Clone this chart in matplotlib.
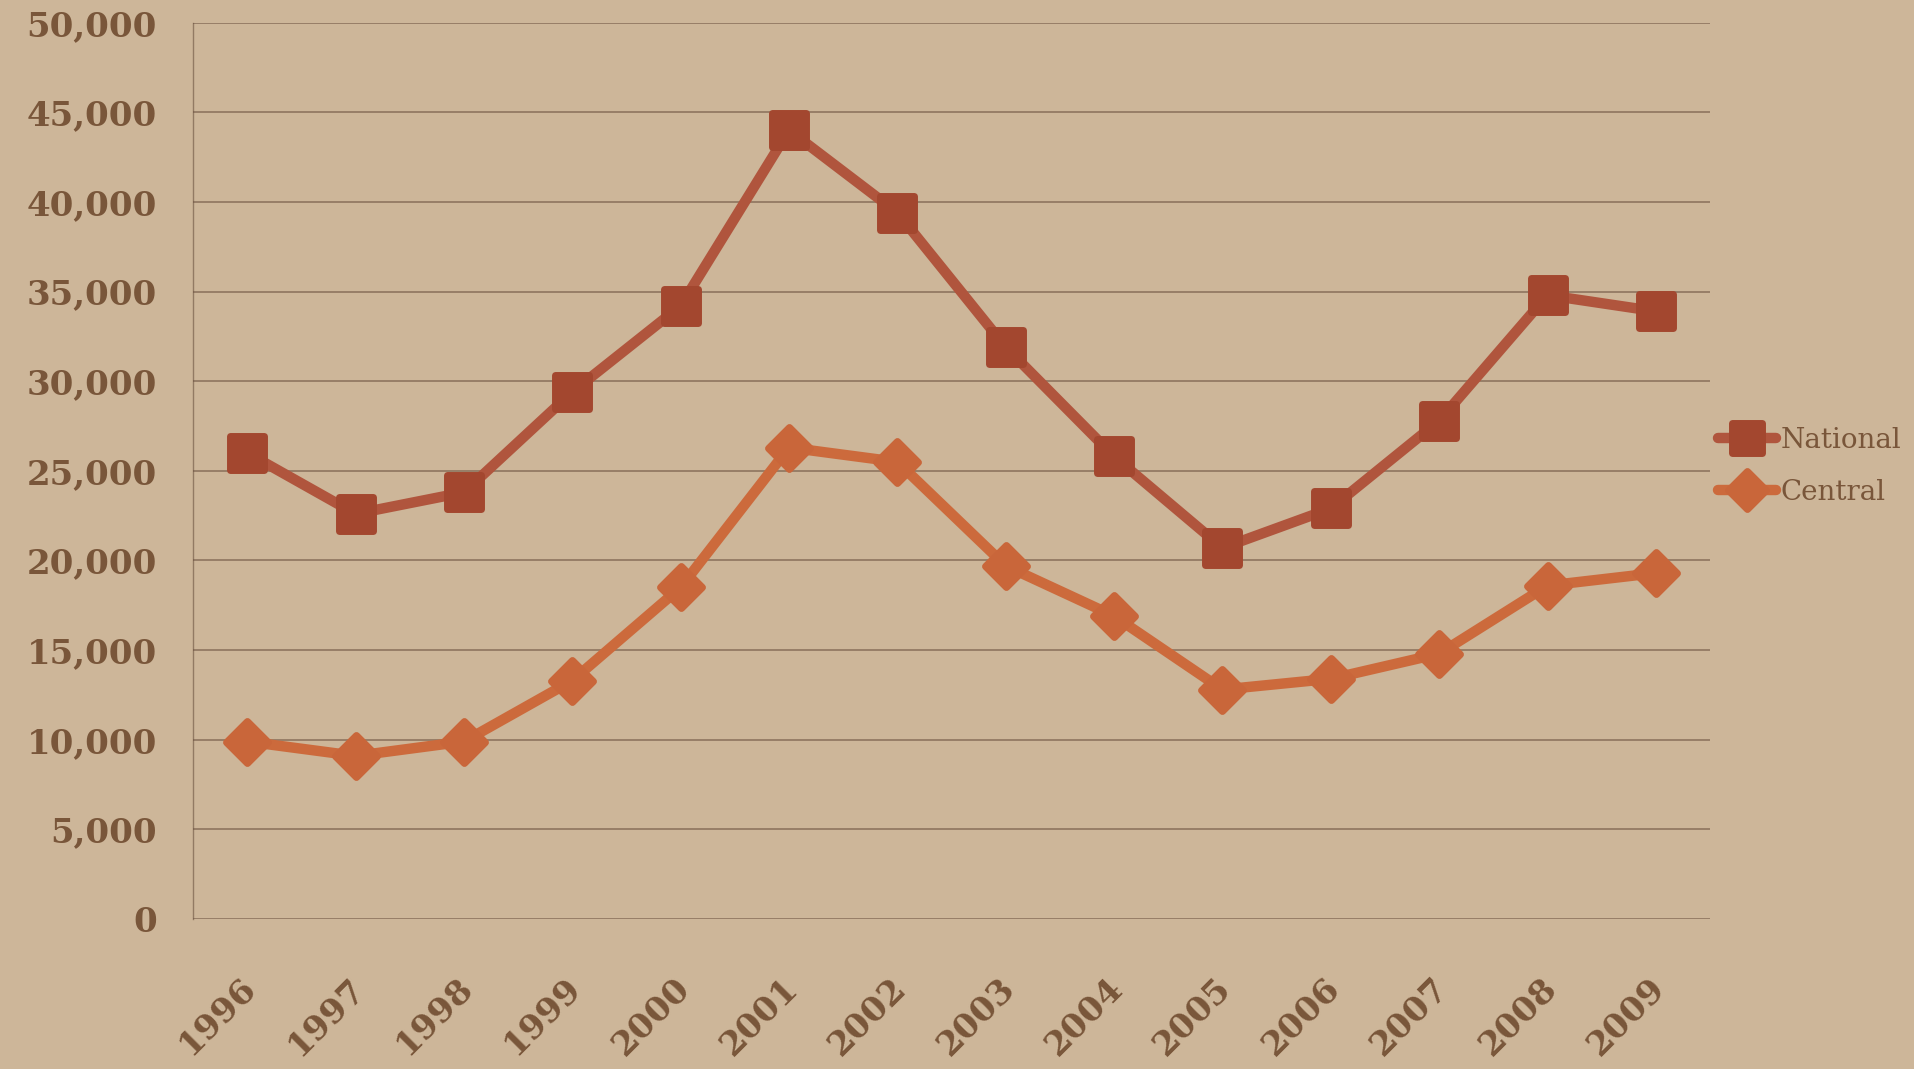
import matplotlib
matplotlib.use("Agg")
import matplotlib.pyplot as plt
from matplotlib.markers import MarkerStyle
from matplotlib.lines import Line2D
from matplotlib.ticker import FuncFormatter, MultipleLocator
import matplotlib.transforms as mtransforms

years = ["1996", "1997", "1998", "1999", "2000", "2001", "2002",
         "2003", "2004", "2005", "2006", "2007", "2008", "2009"]
national = [26000, 22600, 23800, 29400, 34200, 44000, 39400,
            31900, 25800, 20700, 22900, 27800, 34800, 33900]
central = [9900, 9100, 9900, 13300, 18500, 26300, 25500,
           19700, 16900, 12800, 13400, 14800, 18600, 19300]

BG = "#CDB699"
LABEL = "#6A4529"
GRID = "#6B5240"
NAT_LINE = "#B0553D"
NAT_MK = "#A3472F"
CEN_LINE = "#CC6A3C"
CEN_MK = "#C9663A"

fig = plt.figure(figsize=(19.15, 10.69), dpi=100, facecolor=BG)
ax = fig.add_axes([0.1008, 0.1403, 0.7922, 0.8385])
ax.set_facecolor(BG)

x = list(range(len(years)))
sq = MarkerStyle("s", joinstyle="round")
dm = MarkerStyle("D", joinstyle="round")

nat_kw = dict(marker=sq, markersize=24, markeredgewidth=5,
              markeredgecolor=NAT_MK, markerfacecolor=NAT_MK)
cen_kw = dict(marker=dm, markersize=21, markeredgewidth=5,
              markeredgecolor=CEN_MK, markerfacecolor=CEN_MK)

LW = 7.5
ax.plot(x, national, color=NAT_LINE, lw=LW, solid_joinstyle="round",
        solid_capstyle="round", zorder=3)
ax.plot(x, national, ls="none", zorder=4, **nat_kw)
ax.plot(x, central, color=CEN_LINE, lw=LW, solid_joinstyle="round",
        solid_capstyle="round", zorder=3)
ax.plot(x, central, ls="none", zorder=4, **cen_kw)

ax.set_xlim(-0.5, 13.5)
ax.set_ylim(0, 50000)
ax.yaxis.set_major_locator(MultipleLocator(5000))
ax.yaxis.set_major_formatter(FuncFormatter(lambda v, p: f"{int(v):,}"))
ax.set_xticks(x)
ax.set_xticklabels(years)

ax.grid(axis="y", color=GRID, lw=1.1, alpha=0.7)
ax.set_axisbelow(True)
for s in ["top", "right", "bottom"]:
    ax.spines[s].set_visible(False)
ax.spines["left"].set_color(GRID)
ax.spines["left"].set_alpha(0.6)
ax.spines["left"].set_linewidth(1)

ax.tick_params(axis="both", length=0)
ax.tick_params(axis="y", pad=26)
ax.tick_params(axis="x", pad=46)
for lab in ax.get_yticklabels():
    lab.set_fontfamily("DejaVu Serif")
    lab.set_fontweight("bold")
    lab.set_fontsize(24.5)
    lab.set_color(LABEL)
    lab.set_alpha(0.85)
off = mtransforms.ScaledTranslation(0.04, 0, fig.dpi_scale_trans)
for lab in ax.get_xticklabels():
    lab.set_fontfamily("DejaVu Serif")
    lab.set_fontweight("bold")
    lab.set_fontsize(24.5)
    lab.set_color(LABEL)
    lab.set_alpha(0.85)
    lab.set_rotation(45)
    lab.set_ha("right")
    lab.set_va("center")
    lab.set_rotation_mode("anchor")
    lab.set_transform(lab.get_transform() + off)

handles = [
    Line2D([], [], color=NAT_LINE, lw=LW, solid_capstyle="round", **nat_kw),
    Line2D([], [], color=CEN_LINE, lw=LW, solid_capstyle="round", **cen_kw),
]
leg = fig.legend(handles, ["National", "Central"], loc="center left",
                 bbox_to_anchor=(0.897, 0.564),
                 frameon=False, prop={"family": "DejaVu Serif", "size": 20},
                 handlelength=2.1, handletextpad=0.15, labelspacing=0.9,
                 borderpad=0, borderaxespad=0, markerscale=0.92)
for t in leg.get_texts():
    t.set_color(LABEL)
    t.set_alpha(0.85)

fig.savefig("out.png", dpi=100, facecolor=BG)
